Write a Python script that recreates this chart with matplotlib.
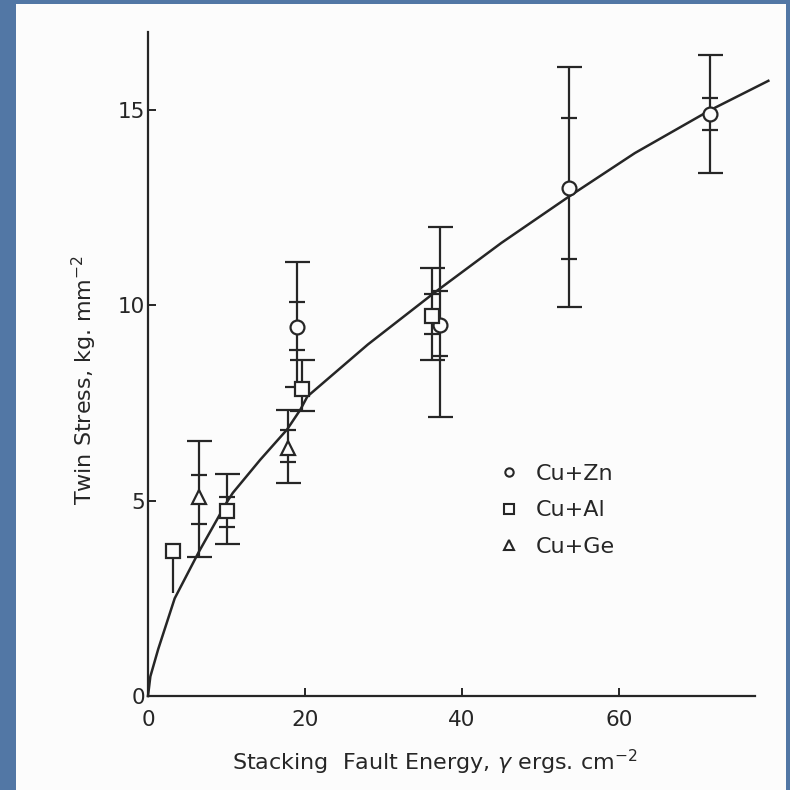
import matplotlib
matplotlib.use('Agg')
import matplotlib.pyplot as plt
from matplotlib.lines import Line2D
from matplotlib.patches import Rectangle
import numpy as np

# values
zn_x = [19.0, 37.2, 53.6, 71.6]
zn_y = [9.44, 9.5, 13.0, 14.9]
zn_lo = [7.9, 7.15, 9.95, 13.4]
zn_hi = [11.1, 12.0, 16.1, 16.4]
zn_in_lo = [8.87, 8.7, 11.2, 14.5]
zn_in_hi = [10.1, 10.36, 14.8, 15.3]

al_x = [3.2, 10.0, 19.6, 36.2]
al_y = [3.72, 4.74, 7.85, 9.74]
al_lo = [2.64, 3.9, 7.3, 8.59]
al_hi = [np.nan, 5.69, 8.6, 10.97]
al_in_lo = [np.nan, 4.33, np.nan, 9.26]
al_in_hi = [np.nan, 5.1, np.nan, 10.28]

ge_x = [6.5, 17.8]
ge_y = [5.1, 6.36]
ge_lo = [3.56, 5.46]
ge_hi = [6.54, 7.33]
ge_in_lo = [4.41, 6.0]
ge_in_hi = [5.67, 6.8]

curve_x = [0, 0.3, 1.3, 3.4, 6.5, 10.0, 10.8, 14.3, 17.7, 19.4, 20.3, 28.0,
           36.5, 45.0, 53.7, 62.0, 71.6, 79.0]
curve_y = [0, 0.5, 1.2, 2.5, 3.7, 4.95, 5.2, 6.05, 6.82, 7.33, 7.67, 9.0,
           10.33, 11.6, 12.8, 13.9, 15.0, 15.75]

xticks = [0, 20, 40, 60]
yticks = [0, 5, 10, 15]

INK = "#262626"
W, H = 790, 790

plt.rcParams['font.family'] = ['DejaVu Sans']
fig = plt.figure(figsize=(7.9, 7.9), dpi=100)
fig.patch.set_facecolor("#5277a5")
fig.add_artist(Rectangle((16 / W, 0), (786 - 16) / W, 1 - 4 / H,
                         transform=fig.transFigure, facecolor="#fcfcfc",
                         edgecolor="none", zorder=0))

ax = fig.add_axes([148 / W, (H - 696) / H, 607 / W, 664 / H])
ax.set_facecolor("none")
ax.set_xlim(0, 77.3)
ax.set_ylim(0, 17.0)
for s in ["top", "right"]:
    ax.spines[s].set_visible(False)
for s in ["left", "bottom"]:
    ax.spines[s].set_linewidth(1.6)
    ax.spines[s].set_color(INK)

ax.set_xticks(xticks)
ax.set_yticks(yticks)
ax.tick_params(direction="in", length=6, width=1.4, color=INK,
               labelsize=15.5, labelcolor=INK)
ax.tick_params(axis="x", pad=10)
ax.tick_params(axis="y", pad=2)

ax.plot(curve_x, curve_y, color=INK, lw=1.8, clip_on=False, zorder=2)


def draw_series(x, y, lo, hi, in_lo, in_hi, marker, ms):
    x = np.array(x); y = np.array(y)
    lo = np.array(lo); hi = np.array(hi)
    in_lo = np.array(in_lo); in_hi = np.array(in_hi)
    # points with only a lower bar
    one = np.isnan(hi)
    if one.any():
        ax.vlines(x[one], lo[one], y[one], color=INK, lw=1.6, zorder=3)
    m = ~one
    ax.errorbar(x[m], y[m], yerr=[y[m] - lo[m], hi[m] - y[m]], fmt="none",
                ecolor=INK, elinewidth=1.6, capsize=9, capthick=1.6, zorder=3)
    m = ~np.isnan(in_lo)
    ax.errorbar(x[m], y[m], yerr=[y[m] - in_lo[m], in_hi[m] - y[m]],
                fmt="none", ecolor=INK, elinewidth=0, capsize=6,
                capthick=1.6, zorder=3)
    ax.plot(x, y, ls="none", marker=marker, ms=ms, mfc="#fcfcfc",
            mec=INK, mew=1.6, zorder=4)


draw_series(zn_x, zn_y, zn_lo, zn_hi, zn_in_lo, zn_in_hi, "o", 10)
draw_series(al_x, al_y, al_lo, al_hi, al_in_lo, al_in_hi, "s", 10)
draw_series(ge_x, ge_y, ge_lo, ge_hi, ge_in_lo, ge_in_hi, "^", 10)

handles = [
    Line2D([], [], ls="none", marker="o", ms=6, mfc="none", mec=INK, mew=1.5),
    Line2D([], [], ls="none", marker="s", ms=7, mfc="none", mec=INK, mew=1.5),
    Line2D([], [], ls="none", marker="^", ms=7, mfc="none", mec=INK, mew=1.5),
]
ax.legend(handles, ["Cu+Zn", "Cu+Al", "Cu+Ge"], frameon=False,
          loc="upper left", bbox_to_anchor=(0.543, 0.38), fontsize=16,
          labelspacing=0.75, handlelength=1.0, handletextpad=0.7,
          labelcolor=INK)

fig.text(435 / W, 1 - 762 / H, r"Stacking  Fault Energy, $\gamma$ ergs. cm$^{-2}$",
         ha="center", va="center", fontsize=16, color=INK)
fig.text(84 / W, 1 - 380 / H, r"Twin Stress, kg. mm$^{-2}$",
         ha="center", va="center", rotation=90, fontsize=16, color=INK)

fig.savefig("out.png", dpi=100, facecolor=fig.get_facecolor())
